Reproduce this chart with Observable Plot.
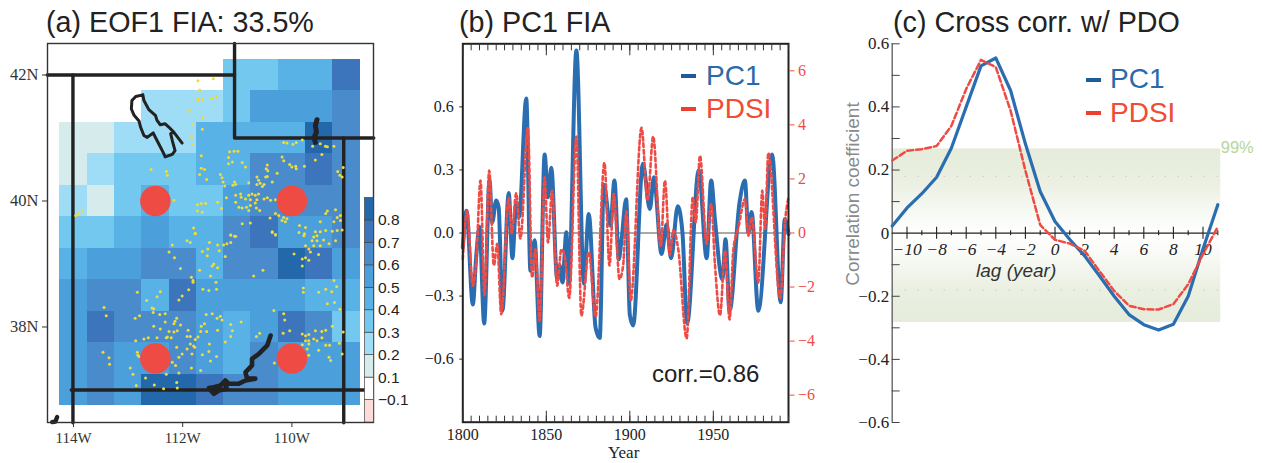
<!DOCTYPE html>
<html><head><meta charset="utf-8">
<script src="https://cdn.jsdelivr.net/npm/d3@7"></script>
<script src="https://cdn.jsdelivr.net/npm/@observablehq/plot@0.6"></script>
<style>
html,body{margin:0;padding:0;background:#fff;}
#root{position:relative;width:1262px;height:463px;overflow:hidden;}
.t{position:absolute;font-family:"Liberation Sans",sans-serif;white-space:nowrap;line-height:1;}
.d{position:absolute;height:4px;width:15px;}
</style></head><body><div id="root"></div>
<script>
// ---------- Panel (a) data
const eofLon=[-114,-113.5,-113,-112.5,-112,-111.5,-111,-110.5,-110,-109.5,-109];
const eofLat=[42,41.5,41,40.5,40,39.5,39,38.5,38,37.5,37];
const n=null;
const eofValues=[
[n,n,n,n,n,n,.35,.35,.45,.45,.75],
[n,n,n,.25,.25,.25,.35,.55,.55,.55,.65],
[.15,.15,.25,.25,.25,.45,.45,.45,.45,.85,.65],
[.15,.25,.35,.35,.35,.45,.45,.65,.65,.75,.65],
[.25,.15,.35,.45,.35,.35,.55,.65,.65,.65,.65],
[.35,.35,.45,.55,.45,.45,.65,.75,.55,.55,.65],
[.45,.55,.55,.65,.65,.45,.65,.65,.85,.75,.55],
[.55,.65,.65,.45,.75,.55,.55,.55,.55,.45,.45],
[.55,.75,.65,.65,.65,.55,.45,.55,.75,.65,.35],
[.55,.65,.55,.55,.65,.55,.45,.65,.55,.55,.55],
[.55,.65,.55,.85,.85,.75,.65,.65,.55,.55,.55]];
const colorBreaks=[-0.1,0.1,0.2,0.3,0.4,0.5,0.6,0.7,0.8];
const colorRange=["#fcdcd8","#ffffff","#d6ecec","#9fdcf5","#72c8ef","#58b2e6","#4b9fdb","#4a8bcc","#3d75bc","#2468ac"];
const colorLabels=["−0.1","0.1","0.2","0.3","0.4","0.5","0.6","0.7","0.8"];
const redPoints=[[-112.5,40],[-110,40],[-112.5,37.5],[-110,37.5]];
const borders=[
[[-114.48,42],[-111.05,42]],[[-111.05,42.5],[-111.05,41],[-108.5,41]],
[[-114.01,42],[-114.01,36.48]],[[-114.04,37],[-108.67,37]],[[-109.05,41],[-109.05,36.48]]];
const saltLake=[[-112.73,41.685],[-112.86,41.66],[-112.93,41.595],[-112.94,41.46],[-112.89,41.36],[-112.80,41.27],[-112.77,41.17],[-112.71,41.04],[-112.65,41.01],[-112.54,41.08],[-112.47,40.96],[-112.36,40.775],[-112.32,40.70],[-112.19,40.74],[-112.14,40.80],[-112.19,40.96],[-112.22,41.07],[-112.16,41.09],[-112.01,40.92],[-112.16,41.09],[-112.25,41.17],[-112.32,41.225],[-112.41,41.21],[-112.47,41.28],[-112.50,41.36],[-112.62,41.45],[-112.71,41.595],[-112.73,41.685]];
const flamingGorge=[[-109.54,41.29],[-109.57,41.2],[-109.55,41.09],[-109.59,41.01],[-109.57,40.93]];
const lakePowell=[[-110.39,37.865],[-110.45,37.71],[-110.61,37.57],[-110.73,37.495],[-110.73,37.39],[-110.85,37.28],[-110.82,37.18],[-110.67,37.18],[-110.85,37.15],[-110.97,37.10],[-111.155,37.10],[-111.22,37.15],[-111.31,37.07],[-111.43,37.045],[-111.52,37.03],[-111.43,36.94],[-111.34,36.99],[-111.19,37.02],[-111.22,37.08]];
const smallLake=[[-114.39,36.49],[-114.33,36.5],[-114.30,36.57]];
const stations=[[-111.72,41.91],[-111.44,41.94],[-111.69,41.76],[-111.72,41.62],[-111.63,41.61],[-111.72,41.60],[-111.47,41.63],[-111.39,41.65],[-111.88,41.43],[-111.63,41.32],[-111.82,41.22],[-111.64,41.14],[-111.84,41.02],[-111.82,40.90],
[-110.15,40.93],[-110.09,40.92],[-109.98,40.90],[-109.92,40.93],[-109.81,40.97],[-109.62,40.87],[-109.48,40.91],[-109.385,40.87],[-109.35,40.86],[-109.23,40.87],[-109.45,40.74],[-109.57,40.65],
[-112.58,40.50],[-112.30,40.47],[-112.28,40.41],[-113.96,39.77],[-113.90,39.80],[-113.83,39.84],[-112.16,40.01],[-111.73,39.94],[-111.66,39.96],[-111.58,39.96],[-111.73,39.84],[-111.64,39.82],[-111.36,39.98],[-111.29,39.88],
[-111.66,40.72],[-111.14,40.78],[-111.06,40.79],[-110.99,40.79],[-111.16,40.69],[-111.09,40.62],[-111.16,40.59],[-110.91,40.61],[-110.85,40.54],[-111.66,40.52],[-111.60,40.50],[-111.69,40.42],[-111.56,40.34],[-111.31,40.42],[-111.28,40.37],[-111.26,40.30],[-111.23,40.24],[-111.05,40.30],[-111.03,40.26],[-111.08,40.25],[-110.79,40.29],
[-110.18,40.70],[-110.15,40.64],[-110.04,40.58],[-110.00,40.54],[-109.93,40.55],[-109.92,40.51],[-109.77,40.55],[-110.45,40.57],[-110.47,40.51],[-110.44,40.48],[-110.64,40.38],[-110.48,40.38],[-110.45,40.39],[-110.27,40.44],[-110.61,40.33],[-110.58,40.28],[-110.51,40.26],[-110.64,40.26],[-110.54,40.23],[-110.36,40.30],[-109.16,40.47],[-109.12,40.41],[-109.06,40.53],[-109.08,40.38],
[-111.03,40.09],[-110.94,40.11],[-110.93,40.06],[-110.79,40.09],[-110.73,40.11],[-110.67,40.09],[-110.61,40.11],[-110.85,40.03],[-110.76,40.02],[-110.64,40.02],[-110.51,40.03],[-110.45,40.05],[-110.39,40.01],[-110.30,40.02],[-111.03,39.98],[-110.97,39.90],[-110.91,39.89],[-110.83,39.90],[-110.76,39.93],[-110.67,39.97],[-110.65,39.89],[-110.59,39.85],[-110.79,39.85],[-111.20,40.05],[-110.30,39.80],[-110.24,39.77],[-110.15,39.74],[-110.09,39.72],[-110.18,39.69],[-110.12,39.67],
[-109.20,39.86],[-109.35,39.84],[-109.38,39.80],[-109.17,39.74],[-109.11,39.77],[-109.11,39.69],[-109.48,39.67],[-109.23,39.67],[-109.08,39.54],[-109.17,39.53],[-109.26,39.52],[-109.38,39.53],[-109.48,39.51],[-109.57,39.51],[-109.60,39.43],[-109.54,39.45],[-110.91,39.64],[-110.76,39.65],[-110.40,39.73],[-111.12,39.46],[-111.03,39.44],[-110.36,39.51],[-110.30,39.46],[-109.86,39.61],[-109.75,39.58],[-109.78,39.45],[-111.80,39.57],[-111.77,39.48],
[-112.19,39.30],[-111.92,39.37],[-111.86,39.34],[-111.77,39.49],[-111.51,39.34],[-111.36,39.30],[-111.25,39.30],[-111.19,39.32],[-111.12,39.34],[-111.12,39.46],[-111.05,39.44],[-110.36,39.50],[-110.30,39.47],[-109.87,39.50],[-109.77,39.48],[-109.75,39.29],[-109.63,39.37],[-109.54,39.37],[-109.42,39.38],[-109.32,39.32],[-109.20,39.37],[-109.60,39.29],[-109.48,39.29],[-109.69,39.24],[-109.66,39.19],[-109.51,39.15],[-109.96,39.16],[-109.81,39.08],[-109.75,39.10],[-109.69,39.06],[-109.81,38.97],
[-112.25,39.19],[-112.15,39.10],[-112.04,38.93],[-111.64,39.20],[-111.54,39.24],[-111.55,39.13],[-111.33,39.21],[-111.22,39.12],[-111.43,39.0],[-111.46,38.97],[-111.36,38.94],[-111.69,38.90],[-111.49,38.81],[-111.84,38.79],[-111.81,38.74],[-111.81,38.71],[-111.39,38.71],[-110.70,38.81],[-110.53,38.90],[-109.23,38.74],[-109.18,38.64],[-109.38,38.60],[-109.51,38.55],[-109.27,38.56],[-109.79,38.62],[-109.79,38.55],[-111.63,38.60],[-111.52,38.58],[-111.38,38.60],[-111.89,38.59],[-112.01,38.49],[-112.07,38.43],[-112.83,38.55],[-112.41,38.56],[-112.47,38.48],[-112.66,38.42],[-112.56,38.30],[-112.53,38.29],[-112.54,38.23],[-113.44,38.31],[-113.40,38.18],[-112.87,38.14],[-112.79,38.18],[-112.42,38.20],[-112.32,38.21],[-112.11,38.14],[-112.14,38.09],[-112.16,38.05],[-112.04,38.03],[-112.32,38.08],[-112.53,38.01],[-112.41,37.97],[-112.25,37.93],[-112.16,37.92],[-112.10,37.94],[-112.28,37.84],[-112.21,37.83],[-111.90,37.95],[-111.92,37.85],[-111.86,37.85],[-111.77,37.80],[-111.72,37.84],[-111.66,38.01],[-111.60,38.05],[-111.56,37.93],[-111.67,37.93],[-111.57,38.20],[-111.46,38.21],[-111.37,38.14],[-111.31,38.17],[-111.28,38.11],[-111.12,38.04],[-110.93,38.08],[-111.09,37.94],[-111.36,37.95],[-111.12,37.85],[-111.22,37.76],[-110.65,37.85],[-110.59,37.90],[-110.33,38.26],[-110.15,38.21],[-110.13,38.11],[-110.04,37.94],[-110.16,37.90],[-109.12,38.28],[-109.06,37.92],[-109.57,37.94],[-109.45,37.93],[-109.38,37.95],[-109.26,38.01],[-109.35,38.37],[-109.22,38.39],[-109.81,37.89],[-109.75,37.86],[-109.69,37.88],[-109.75,37.78],[-109.69,37.78],[-109.60,37.81],[-109.54,37.78],[-109.45,37.83],[-109.81,37.72],[-109.69,37.73],[-109.72,37.65],[-109.69,37.55],[-109.51,37.63],[-109.32,37.52],[-109.29,37.47],[-109.38,37.71],[-109.13,37.74],[-109.08,37.57],[-109.31,37.71],
[-112.86,37.78],[-112.71,37.81],[-112.63,37.83],[-112.47,37.83],[-112.30,37.83],[-112.83,37.60],[-112.82,37.55],[-112.80,37.53],[-112.96,37.35],[-112.91,37.25],[-112.68,37.19],[-112.85,37.07],[-112.52,37.08],[-112.35,37.02],[-112.11,37.12],[-112.10,37.03],[-112.30,37.25],[-112.19,37.44],[-112.13,37.39],[-112.07,37.27],[-112.11,37.68],[-112.01,37.57],[-112.07,37.52],[-111.80,37.70],[-111.86,37.73],[-111.92,37.65],[-111.78,37.68],[-111.83,37.57],[-111.64,37.56],[-111.51,37.73],[-111.52,37.61],[-111.49,37.46],[-111.38,37.53],[-111.67,37.31],[-111.84,37.35],[-110.32,37.43],[-113.46,37.60],[-113.35,37.51],[-113.34,37.41]];
// ---------- Panel (b) data: turning points of each series
const pc1Years=[1800,1802.2,1806,1808,1810,1812.8,1816,1817.6,1820,1821.5,1823.7,1827.5,1829.7,1832,1833.7,1838,1840.5,1843,1846,1849,1851,1853,1856.5,1858,1859.7,1862,1863.5,1868,1872.5,1875.4,1879.5,1882,1884.4,1888.4,1890.8,1893.4,1895,1897.8,1900,1902,1907.8,1912,1914.4,1919,1922,1924.7,1928.7,1931.5,1934.3,1941.3,1946,1948.7,1951,1955.4,1957.3,1959.7,1965.7,1968.9,1971,1972.9,1976.9,1985.2,1990.3,1992.8,1995];
const pc1Values=[-.07,.106,-.34,-.115,.03,-.43,.25,.05,.155,.12,-.37,.19,-.12,.145,.075,.64,-.18,-.035,-.49,.373,.17,.31,-.22,-.155,-.235,.003,-.24,.868,-.24,.09,-.45,-.5,.23,.035,.25,-.125,-.035,.16,-.39,-.44,.33,.114,.265,-.10,.04,-.12,.127,.003,-.43,.30,-.12,.25,.06,-.22,-.03,-.37,.146,.25,0,.10,-.37,.373,-.33,.067,-.005];
const pdsiYears=[1800,1802.6,1806,1808,1810.6,1813,1815.8,1818.6,1820.6,1823,1827.5,1829.3,1832,1834.5,1839,1841.5,1843.5,1846,1849,1851,1853.5,1856.5,1859,1861,1863.7,1868,1871,1875.4,1879.5,1884.8,1887.8,1890.4,1893.8,1896,1898,1900.5,1907,1910.6,1914,1918.5,1921,1924,1926,1929,1934,1937.7,1939.5,1942,1946,1948.7,1951,1954,1957,1959.7,1962,1965,1969,1971,1973,1976.9,1979.3,1981,1982.9,1990,1993.3,1995];
const pdsiValues=[-.96,.83,-1.95,-1.1,1.94,-2.3,2.31,-1.2,-.4,-3,1.3,0,1.47,-.2,3.9,-1.65,-.6,-3.25,2.06,-.35,1.57,-1.95,-.6,-.84,-2.4,3.57,-3.06,-.7,-3.1,2.6,-1.2,1.44,-1.7,-1.2,.8,-2.5,3.89,1.2,3.57,-.5,1.94,-.8,.1,-.6,-3.9,1.32,.4,2.86,-.4,1.07,-1.2,-3.05,-.65,-3.2,-.6,.2,1.26,-.1,.58,-1.84,1.57,.15,2.96,-2.4,.64,1.32];
const pc1Ticks=[-.6,-.3,0,.3,.6];
const pdsiTicks=[-6,-4,-2,0,2,4,6];
const yearLabels=[1800,1850,1900,1950];
const yearMinor=d3.range(1805,1996,5);
const pdsiLimit=7, pc1Limit=0.9;
// ---------- Panel (c) data
const lags=[-11,-10,-9,-8,-7,-6,-5,-4,-3,-2,-1,0,1,2,3,4,5,6,7,8,9,10,11];
const pc1Cross=[.023,.08,.125,.177,.27,.40,.53,.555,.452,.283,.132,.037,-.02,-.072,-.135,-.2,-.258,-.29,-.307,-.289,-.2,-.05,.09];
const pdsiCross=[.23,.261,.266,.276,.34,.457,.549,.526,.388,.198,.026,-.021,-.033,-.056,-.12,-.183,-.23,-.241,-.242,-.225,-.162,-.067,.02];
const lagLabels=[-10,-8,-6,-4,-2,0,2,4,6,8,10];
const lagMinor=[-9,-7,-5,-3,-1,1,3,5,7,9,11];
const corrLabels=[-.6,-.4,-.2,0,.2,.4,.6];
const corrTicks=[-.6,-.5,-.4,-.3,-.2,-.1,.1,.2,.3,.4,.5,.6];
const bandTop=.267, bandBottom=-.283, band95=.18;

const BLUE="#2a6db0", RED="#ef4b45", INK="#222";
const serif='"Liberation Serif",serif', sans='"Liberation Sans",sans-serif';
const signed=(d,digits)=>(d<0?"−":"")+Math.abs(d).toFixed(digits);
const root=document.getElementById("root");
function place(el,left){el.style.position="absolute";el.style.left=left+"px";el.style.top="0";root.append(el);}
function label(txt,x,y,size,color,extra){const e=document.createElement("div");e.className="t";e.textContent=txt;e.style.cssText+=`left:${x}px;top:${y}px;font-size:${size}px;color:${color};${extra||""}`;root.append(e);}
function dash(x,y,color){const e=document.createElement("div");e.className="d";e.style.cssText+=`left:${x}px;top:${y}px;background:${color};`;root.append(e);}

// ---------- (a) map
const cells=eofLat.flatMap((lat,i)=>eofLon.map((lon,j)=>({lon,lat,v:eofValues[i][j]}))).filter(d=>d.v!=null);
const ln=(data,w)=>Plot.line(data,{x:d=>d[0],y:d=>d[1],stroke:"#222",strokeWidth:w});
place(Plot.plot({
  width:430,height:463,marginLeft:47,marginRight:57,marginTop:43,marginBottom:41,
  style:{fontFamily:serif,fontSize:"15px",background:"transparent"},
  x:{domain:[-114.476,-108.505]},y:{domain:[36.484,42.5]},
  color:{type:"threshold",domain:colorBreaks,range:colorRange},
  marks:[
    Plot.rect(cells,{x1:d=>d.lon-.25,x2:d=>d.lon+.25,y1:d=>d.lat-.25,y2:d=>d.lat+.25,fill:"v",shapeRendering:"crispEdges"}),
    ...borders.map(b=>ln(b,3.4)),
    ln(saltLake,3),ln(flamingGorge,5),ln(lakePowell,4.6),ln(smallLake,4.4),
    Plot.dot(stations,{x:d=>d[0],y:d=>d[1],r:1.5,fill:"#efdc3a"}),
    Plot.dot(redPoints,{x:d=>d[0],y:d=>d[1],r:15.3,fill:RED}),
    Plot.frame({stroke:"#333",strokeWidth:1.4}),
    Plot.axisX({ticks:[-114,-112,-110],tickFormat:d=>Math.abs(d)+"W",label:null,tickSize:5,tickPadding:5,color:"#333"}),
    Plot.axisY({ticks:[38,40,42],tickFormat:d=>d+"N",label:null,tickSize:5,tickPadding:4,fontSize:16.5,color:"#333"})
  ]
}),0);

// colour bar (bins indexed from the bottom up)
const bins=colorRange.map((c,i)=>({i,c}));
place(Plot.plot({
  width:60,height:463,marginLeft:9.5,marginRight:41.5,marginTop:197.5,marginBottom:41,
  style:{fontFamily:sans,fontSize:"15.5px",background:"transparent"},
  x:{domain:[0,1],axis:null},y:{domain:[0,colorRange.length],axis:null},
  marks:[
    Plot.rect(bins,{x1:0,x2:1,y1:d=>d.i,y2:d=>d.i+1,fill:d=>d.c,stroke:"#444",strokeWidth:.7}),
    Plot.axisY({anchor:"right",ticks:colorLabels.map((_,i)=>i+1),tickFormat:i=>colorLabels[i-1],label:null,tickSize:0,tickPadding:4,color:"#222"})
  ]
}),354.5);

// ---------- (b) time series
const pc1Series=pc1Years.map((year,i)=>({year,v:pc1Values[i]}));
const pdsiSeries=pdsiYears.map((year,i)=>({year,v:pdsiValues[i]*pc1Limit/pdsiLimit}));
place(Plot.plot({
  width:420,height:463,marginLeft:42.3,marginRight:52,marginTop:43.3,marginBottom:41.3,
  style:{fontFamily:serif,fontSize:"16px",background:"transparent"},
  x:{domain:[1800,1995]},y:{domain:[-pc1Limit,pc1Limit]},
  marks:[
    Plot.ruleY([0],{stroke:"#555",strokeWidth:1}),
    Plot.line(pc1Series,{x:"year",y:"v",stroke:BLUE,strokeWidth:4,curve:"monotone-x"}),
    Plot.line(pdsiSeries,{x:"year",y:"v",stroke:RED,strokeWidth:2.6,strokeDasharray:"3.5,3",curve:"monotone-x"}),
    Plot.frame({stroke:"#222",strokeWidth:2}),
    Plot.axisX({ticks:yearMinor,anchor:"bottom",tickSize:-6,tickFormat:()=>"",label:null,color:"#333"}),
    Plot.axisX({ticks:yearMinor,anchor:"top",tickSize:-6,tickFormat:()=>"",label:null,color:"#333"}),
    Plot.axisX({ticks:yearLabels,anchor:"bottom",tickSize:-11,tickFormat:()=>"",label:null,color:"#333"}),
    Plot.axisX({ticks:yearLabels,anchor:"top",tickSize:-11,tickFormat:()=>"",label:null,color:"#333"}),
    Plot.axisX({ticks:yearLabels,anchor:"bottom",tickSize:0,tickPadding:6,tickFormat:d=>String(d),label:null,color:"#222"}),
    Plot.axisY({ticks:pc1Ticks,tickSize:3,tickPadding:6,tickFormat:d=>signed(d,1),label:null,color:"#222"}),
    Plot.axisY({anchor:"right",ticks:pdsiTicks.map(d=>d*pc1Limit/pdsiLimit),tickSize:5.5,tickPadding:4,
      tickFormat:d=>signed(Math.round(d*pdsiLimit/pc1Limit),0),label:null,color:RED})
  ]
}),420);

// ---------- (c) cross correlation
const corrSeries=k=>lags.map((lag,i)=>({lag,v:k[i]}));
place(Plot.plot({
  width:422,height:463,marginLeft:51.7,marginRight:44.7,marginTop:43.3,marginBottom:41,
  style:{fontFamily:serif,fontSize:"17px",background:"transparent"},
  x:{domain:[-11,11],axis:null},y:{domain:[-.6,.6]},
  marks:[
    ()=>{const svg=d3.create("svg:defs");const g=svg.append("linearGradient").attr("id","bandGrad").attr("x1",0).attr("x2",0).attr("y1",0).attr("y2",1);
      [[0,"#e5ecda"],[.2,"#ebf0e2"],[.42,"#fbfcf9"],[.5,"#ffffff"],[.58,"#fbfcf9"],[.8,"#ebf0e2"],[1,"#e5ecda"]].forEach(([o,c])=>g.append("stop").attr("offset",o).attr("stop-color",c));return svg.node();},
    Plot.rect([{y1:bandBottom,y2:bandTop}],{x1:-11,x2:11.2,y1:"y1",y2:"y2",fill:"url(#bandGrad)"}),
    Plot.ruleY([band95,-band95],{x1:-11,x2:11.2,stroke:"#bbb",strokeWidth:1,strokeDasharray:"1,12"}),
    Plot.ruleX([-11],{y1:-.6,y2:.6,stroke:"#666",strokeWidth:1.4}),
    Plot.axisY({ticks:corrTicks,tickSize:-8,tickFormat:()=>"",label:null,color:"#444"}),
    Plot.axisY({ticks:corrLabels,tickSize:0,tickPadding:3,tickFormat:d=>d===0?"0":signed(d,1),label:null,color:"#222"}),
    Plot.ruleY([0],{stroke:"#222",strokeWidth:1.1}),
    Plot.ruleX(lagLabels,{y1:-.019,y2:.019,stroke:"#222",strokeWidth:1.1}),
    Plot.ruleX(lagMinor,{y1:-.008,y2:.008,stroke:"#222",strokeWidth:1.1}),
    Plot.text(lagLabels,{x:d=>d,y:0,dy:16,text:d=>signed(d,0),fontStyle:"italic",fontSize:17.5,fill:"#222"}),
    Plot.line(corrSeries(pc1Cross),{x:"lag",y:"v",stroke:BLUE,strokeWidth:3.2}),
    Plot.line(corrSeries(pdsiCross),{x:"lag",y:"v",stroke:RED,strokeWidth:2.5,strokeDasharray:"6,3"}),
    Plot.text(["99%"],{x:11.2,y:.27,textAnchor:"start",fontFamily:sans,fontSize:16.5,fill:"#b7d49c"})
  ]
}),840);

// ---------- titles, legends, annotations
label("(a) EOF1 FIA: 33.5%",46,8,28.7,INK);
label("(b) PC1 FIA",459,8,28.7,INK);
label("(c) Cross corr. w/ PDO",893,8,28.7,INK);
label("corr.=0.86",652,362,24,INK);
label("Year",608,444,17,INK,`font-family:${serif};`);
label("lag (year)",976,261,19,"#333","font-style:italic;");
label("Correlation coefficient",852,194,19,"#8a8a8a","transform:translate(-50%,-50%) rotate(-90deg);");
dash(681,74,"#1f5a9a");dash(681,107,"#ef3e2e");
label("PC1",706,62,28,"#2a6aa8");label("PDSI",706,95,28,"#ef4b35");
dash(1086,78,"#1f5a9a");dash(1086,111,"#ef3e2e");
label("PC1",1110,65,28,"#2a6aa8");label("PDSI",1110,99,28,"#ef4b35");
</script></body></html>
